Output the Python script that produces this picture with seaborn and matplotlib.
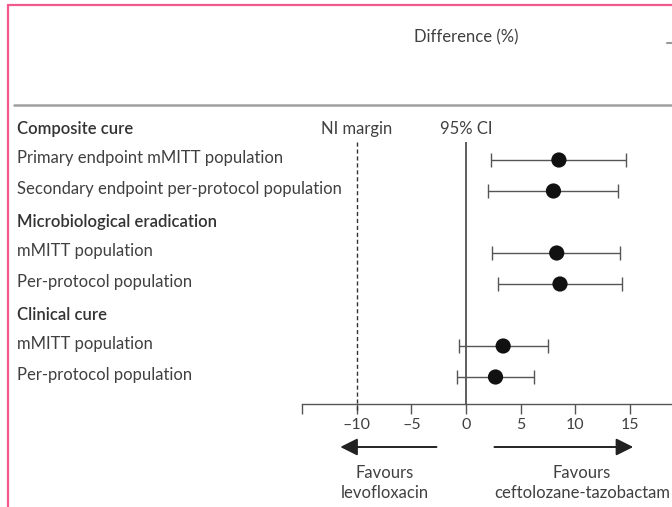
import matplotlib
matplotlib.use("Agg")
import matplotlib.pyplot as plt
from matplotlib.lines import Line2D
from matplotlib.transforms import blended_transform_factory
import seaborn as sns
import pandas as pd

# ---- data ----
groups = ["Composite cure", "Microbiological eradication", "Clinical cure"]
row_labels = [
    "Primary endpoint mMITT population",
    "Secondary endpoint per-protocol population",
    "mMITT population",
    "Per-protocol population",
    "mMITT population",
    "Per-protocol population",
]
row_group = [0, 0, 1, 1, 2, 2]
diff = [8.5, 8.0, 8.3, 8.6, 3.4, 2.7]
ci_low = [2.3, 2.0, 2.4, 2.9, -0.6, -0.8]
ci_high = [14.6, 13.9, 14.1, 14.3, 7.5, 6.2]
tick_values = [-15, -10, -5, 0, 5, 10, 15]
tick_labels = ["", "\u201310", "\u20135", "0", "5", "10", "15"]
ni_margin = -10

sns.set_theme(style="white")
plt.rcParams["font.family"] = ["Lato", "DejaVu Sans"]

W, H = 672, 507
fig = plt.figure(figsize=(W / 100, H / 100), dpi=100)

# row positions: header rows take a slot
ypos = []
hdr_pos = []
k = 0
for g in range(len(groups)):
    hdr_pos.append(k)
    k += 1
    for i, rg in enumerate(row_group):
        if rg == g:
            ypos.append(k)
            k += 1

row_px0, row_step = 129.0, 31.0  # pixel of row 0, pixels per row
def px_to_row(p):
    return (p - row_px0) / row_step

x0_px, unit_px = 466.0, 10.93
ax_left_px, ax_top_px, ax_bot_px = 302.0, 142.0, 404.0
ax = fig.add_axes([ax_left_px / W, 1 - ax_bot_px / H, (W - ax_left_px) / W, (ax_bot_px - ax_top_px) / H])

df = pd.DataFrame({"label": row_labels, "diff": diff, "lo": ci_low, "hi": ci_high, "y": ypos})

txt = "#404040"
line_c = "#555555"
fs = 12

# CIs and points
ax.errorbar(df["diff"], df["y"], xerr=[df["diff"] - df["lo"], df["hi"] - df["diff"]],
            fmt="none", ecolor="#555555", elinewidth=1.0, capsize=5, capthick=1.0, zorder=2)
sns.scatterplot(data=df, x="diff", y="y", ax=ax, color="#111111", s=120, edgecolor="none",
                zorder=3, legend=False)

# axis styling
for s in ["top", "right", "left"]:
    ax.spines[s].set_visible(False)
ax.spines["bottom"].set_color(line_c)
ax.spines["bottom"].set_linewidth(1.0)
ax.set_yticks([])
ax.set_xticks(tick_values)
ax.set_xticklabels(tick_labels)
ax.tick_params(axis="x", direction="out", length=7, width=1.0, color=line_c,
               labelsize=11.5, labelcolor=txt, pad=3, bottom=True)
ax.set_xlabel("")
ax.set_ylabel("")
ax.set_xlim((ax_left_px - x0_px) / unit_px, (W - x0_px) / unit_px)
ax.set_ylim(px_to_row(ax_bot_px), px_to_row(ax_top_px))

# reference lines
ax.axvline(0, color="#333333", lw=1.1, zorder=1)
ax.plot([ni_margin, ni_margin], [px_to_row(ax_top_px), px_to_row(411)], color="#333333",
        lw=1.0, ls=(0, (3, 2)), clip_on=False, zorder=1)

# labels on the left
tr = blended_transform_factory(fig.transFigure, ax.transData)
lx = 17 / W
for g, hp in zip(groups, hdr_pos):
    ax.text(lx, hp, g, transform=tr, ha="left", va="center", fontsize=fs,
            fontweight="semibold", color="#333333")
for lab, y in zip(row_labels, ypos):
    ax.text(lx, y - 0.08, lab, transform=tr, ha="left", va="center", fontsize=fs, color=txt)

ax.text(ni_margin, 0, "NI margin", ha="center", va="center", fontsize=fs, color=txt, clip_on=False)
ax.text(0, 0, "95% CI", ha="center", va="center", fontsize=fs, color=txt, clip_on=False)
ax.text(0, px_to_row(37), "Difference (%)", ha="center", va="center", fontsize=fs,
        color=txt, clip_on=False)

# favour arrows
ay = px_to_row(447)
arrow_kw = dict(arrowstyle="-|>,head_length=0.8,head_width=0.4", mutation_scale=13,
                lw=1.4, color="#222222", shrinkA=0, shrinkB=0)
ax.annotate("", xy=(-11.5, ay), xytext=(-2.7, ay), arrowprops=arrow_kw, annotation_clip=False)
ax.annotate("", xy=(15.3, ay), xytext=(2.6, ay), arrowprops=arrow_kw, annotation_clip=False)
ax.text(-7.4, px_to_row(483), "Favours\nlevofloxacin", ha="center", va="center",
        fontsize=fs, color=txt, linespacing=1.35, clip_on=False)
ax.text(10.6, px_to_row(483), "Favours\nceftolozane-tazobactam", ha="center", va="center",
        fontsize=fs, color=txt, linespacing=1.35, clip_on=False)

# decorative frame lines
pink = "#f25a8c"
fig.add_artist(Line2D([8 / W, 1], [1 - 4.5 / H] * 2, transform=fig.transFigure, color=pink, lw=1.6))
fig.add_artist(Line2D([8 / W] * 2, [0, 1 - 4.5 / H], transform=fig.transFigure, color=pink, lw=1.6))
fig.add_artist(Line2D([14 / W, 1], [1 - 105 / H] * 2, transform=fig.transFigure, color="#a0a0a0", lw=1.8))
fig.add_artist(Line2D([667 / W, 1], [1 - 43 / H] * 2, transform=fig.transFigure, color="#999999", lw=1.5))

fig.savefig("out.png", dpi=100, facecolor="white")
